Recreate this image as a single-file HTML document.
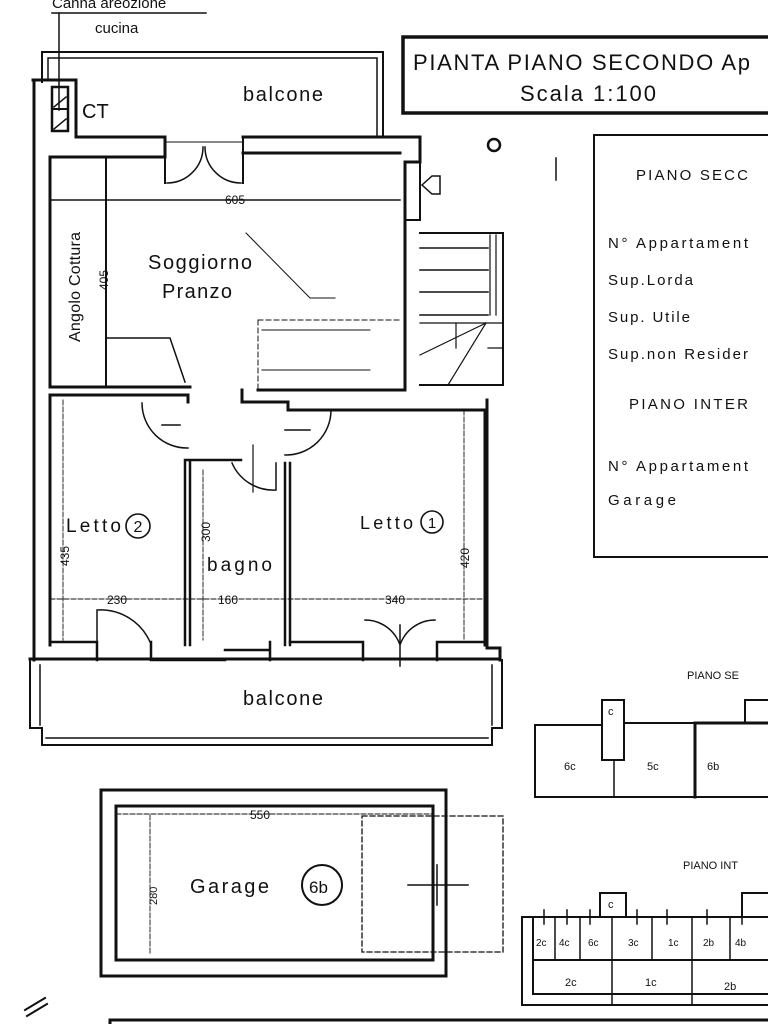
<!DOCTYPE html>
<html><head><meta charset="utf-8"><style>
html,body{margin:0;padding:0;background:#fff;}
svg{display:block;}
text{font-family:"Liberation Sans",sans-serif;fill:#111;}
</style></head><body>
<svg width="768" height="1024" viewBox="0 0 768 1024" xmlns="http://www.w3.org/2000/svg">
<rect width="768" height="1024" fill="#fff"/>
<g stroke="#111" fill="none" stroke-linecap="square">
<line x1="52" y1="13" x2="206" y2="13" stroke-width="1.5"/>
<line x1="59" y1="13" x2="59" y2="110" stroke-width="1.5"/>
<path d="M42 82 V52 H383 V135" stroke-width="2"/>
<path d="M48 80 V58 H377 V135" stroke-width="1.5"/>
<path d="M33 80 H76 V137 H165" stroke-width="3"/>
<rect x="52" y="87" width="16" height="44" stroke-width="2.5"/>
<line x1="52" y1="109" x2="68" y2="109" stroke-width="2"/>
<line x1="54" y1="107" x2="66" y2="97" stroke-width="1.5"/>
<line x1="54" y1="129" x2="66" y2="119" stroke-width="1.5"/>
<line x1="34" y1="80" x2="34" y2="660" stroke-width="3"/>
<line x1="50" y1="157" x2="50" y2="385" stroke-width="3"/>
<path d="M50 157 H165 V137" stroke-width="3"/>
<path d="M165 137 V183 M243 137 V183" stroke-width="2"/>
<line x1="165" y1="142" x2="243" y2="142" stroke-width="1"/>
<path d="M243 137 H420 V162 H405 V390 H258" stroke-width="3"/>
<path d="M243 153 H400" stroke-width="3"/>
<path d="M420 162 V220 H405" stroke-width="2"/>
<path d="M167 183 A36 36 0 0 0 203 147" stroke-width="1.5"/>
<path d="M241 183 A36 36 0 0 1 205 147" stroke-width="1.5"/>
<line x1="50" y1="200" x2="400" y2="200" stroke-width="1.5"/>
<line x1="106" y1="158" x2="106" y2="385" stroke-width="2"/>
<line x1="50" y1="387" x2="190" y2="387" stroke-width="3"/>
<path d="M106 338 H170 L185 382" stroke-width="1.5"/>
<path d="M258 320 H400 M258 320 V390" stroke-width="1" stroke-dasharray="5,3"/>
<path d="M262 330 H370 M262 370 H370" stroke-width="1"/>
<path d="M246 233 L310 298 H335" stroke-width="1"/>
<path d="M420 233 H503 V385 H420" stroke-width="2"/>
<path d="M420 248 H488 M420 270 H488 M420 292 H488 M420 315 H488" stroke-width="1.5"/>
<path d="M490 235 V315 M496 235 V315 M488 348 H503 M456 323 V348" stroke-width="1.2"/>
<path d="M420 355 L486 323 M448 385 L486 323" stroke-width="1.2"/>
<line x1="420" y1="323" x2="503" y2="323" stroke-width="1.2"/>
<path d="M50 395 H188 V402 M50 395 V645" stroke-width="3"/>
<path d="M242 390 V402 H288 V410 M288 410 H485 V645" stroke-width="3"/>
<path d="M487 400 V648 H500 V660" stroke-width="3"/>
<path d="M185 460 V645 M190 460 V645 M185 460 H241" stroke-width="2.5"/>
<path d="M285 463 V645 M290 463 V645" stroke-width="2.5"/>
<path d="M142 403 A45 45 0 0 0 188 448 M331 410 A45 45 0 0 1 285 455" stroke-width="1.5"/>
<path d="M276 463 V490 A45 45 0 0 1 232 463" stroke-width="1.5"/>
<path d="M162 425 H180 M285 430 H310" stroke-width="1.5"/>
<line x1="253" y1="445" x2="253" y2="492" stroke-width="1.2"/>
<line x1="30" y1="659" x2="500" y2="659" stroke-width="3"/>
<path d="M50 642 H97 V660 M151 642 V660 H225 M225 650 H270 M270 642 V660 M290 642 H363 V660 M437 660 V642 H485" stroke-width="2.5"/>
<path d="M97 660 V610 A54 54 0 0 1 150 642" stroke-width="1.5"/>
<path d="M365 620 A37 37 0 0 1 400 645 A37 37 0 0 1 435 620 M400 625 V666" stroke-width="1.5"/>
<g stroke-width="0.9" stroke-dasharray="5,2">
<line x1="63" y1="400" x2="63" y2="640"/>
<line x1="203" y1="470" x2="203" y2="640"/>
<line x1="464" y1="410" x2="464" y2="640"/>
<line x1="50" y1="599" x2="485" y2="599"/>
</g>
<path d="M30 660 V728 H42 V745 H492 V728 H502 V660" stroke-width="2"/>
<path d="M40 665 V725 M492 665 V725 M46 738 H488" stroke-width="1.5"/>
<rect x="101" y="790" width="345" height="186" stroke-width="3"/>
<rect x="116" y="806" width="317" height="154" stroke-width="3"/>
<rect x="362" y="816" width="141" height="136" stroke-width="1.3" stroke-dasharray="5,3"/>
<path d="M408 885 H468 M437 865 V905" stroke-width="1.5"/>
<line x1="116" y1="814" x2="433" y2="814" stroke-width="0.9" stroke-dasharray="5,2"/>
<line x1="150" y1="815" x2="150" y2="955" stroke-width="0.9" stroke-dasharray="5,2"/>
<circle cx="322" cy="885" r="20" stroke-width="2"/>
<rect x="403" y="37" width="380" height="76" stroke-width="3.5"/>
<rect x="594" y="135" width="190" height="422" stroke-width="2"/>
<circle cx="494" cy="145" r="6" stroke-width="2.5"/>
<path d="M556 158 V180 M422 185 L432 176 H440 V194 H432 Z" stroke-width="1.5"/>
<path d="M535 725 H602 M624 723 H745 M535 725 V797 H768" stroke-width="2"/>
<rect x="602" y="700" width="22" height="60" stroke-width="2"/>
<line x1="614" y1="760" x2="614" y2="797" stroke-width="1.5"/>
<line x1="695" y1="723" x2="695" y2="797" stroke-width="3"/>
<line x1="695" y1="723" x2="768" y2="723" stroke-width="3"/>
<path d="M745 723 V700 H768" stroke-width="2"/>
<path d="M522 917 H768 M522 917 V1005 H768 M533 917 V994 H768 M533 960 H768" stroke-width="2"/>
<rect x="600" y="893" width="26" height="24" stroke-width="2"/>
<path d="M555 917 V960 M580 917 V960 M612 917 V1005 M652 917 V960 M692 917 V1005 M730 917 V960" stroke-width="1.5"/>
<path d="M544 910 V924 M567 910 V924 M590 910 V924 M637 910 V924 M667 910 V924 M707 910 V924 M742 910 V924" stroke-width="1.5"/>
<path d="M742 917 V893 H768" stroke-width="2"/>
<path d="M110 1024 V1020 H768" stroke-width="3"/>
<path d="M25 1010 L45 998 M27 1016 L47 1004" stroke-width="2"/>
</g>
<text x="52" y="8" font-size="15">Canna areozione</text>
<text x="95" y="33" font-size="15">cucina</text>
<text x="243" y="101" font-size="20" textLength="80">balcone</text>
<text x="82" y="118" font-size="20">CT</text>
<text x="148" y="269" font-size="20" textLength="104">Soggiorno</text>
<text x="162" y="298" font-size="20" textLength="70">Pranzo</text>
<text transform="translate(80,342) rotate(-90)" font-size="16" textLength="110">Angolo Cottura</text>
<text transform="translate(108,290) rotate(-90)" font-size="12">405</text>
<text x="225" y="204" font-size="12">605</text>
<text x="66" y="532" font-size="19" textLength="55">Letto</text>
<text x="138" y="532" font-size="16" text-anchor="middle">2</text>
<circle cx="138" cy="526" r="12" fill="none" stroke="#111" stroke-width="1.6"/>
<text x="360" y="529" font-size="18" fill="#333" textLength="53">Letto</text>
<text x="432" y="528" font-size="15" text-anchor="middle">1</text>
<circle cx="432" cy="522" r="11" fill="none" stroke="#111" stroke-width="1.6"/>
<text x="207" y="571" font-size="19" textLength="65">bagno</text>
<text transform="translate(69,566) rotate(-90)" font-size="12">435</text>
<text transform="translate(210,542) rotate(-90)" font-size="12">300</text>
<text transform="translate(469,568) rotate(-90)" font-size="12">420</text>
<text x="107" y="604" font-size="12">230</text>
<text x="218" y="604" font-size="12">160</text>
<text x="385" y="604" font-size="12">340</text>
<text x="243" y="705" font-size="20" textLength="80">balcone</text>
<text x="190" y="893" font-size="20" textLength="79">Garage</text>
<text x="309" y="893" font-size="17">6b</text>
<text x="250" y="819" font-size="12">550</text>
<text transform="translate(157,905) rotate(-90)" font-size="11">280</text>
<text x="413" y="70" font-size="22" textLength="337">PIANTA PIANO SECONDO Ap</text>
<text x="520" y="101" font-size="22" textLength="136">Scala 1:100</text>
<text x="636" y="180" font-size="15" textLength="112">PIANO SECC</text>
<text x="608" y="248" font-size="15" textLength="140">N° Appartament</text>
<text x="608" y="285" font-size="15" textLength="85">Sup.Lorda</text>
<text x="608" y="322" font-size="15" textLength="82">Sup. Utile</text>
<text x="608" y="359" font-size="15" textLength="140">Sup.non Resider</text>
<text x="629" y="409" font-size="15" textLength="119">PIANO INTER</text>
<text x="608" y="471" font-size="15" textLength="140">N° Appartament</text>
<text x="608" y="505" font-size="15" textLength="68">Garage</text>
<text x="687" y="679" font-size="11">PIANO SE</text>
<text x="683" y="869" font-size="11">PIANO INT</text>
<text x="608" y="715" font-size="11">c</text>
<text x="564" y="770" font-size="11">6c</text>
<text x="647" y="770" font-size="11">5c</text>
<text x="707" y="770" font-size="11">6b</text>
<text x="608" y="908" font-size="11">c</text>
<text x="536" y="946" font-size="10">2c</text>
<text x="559" y="946" font-size="10">4c</text>
<text x="588" y="946" font-size="10">6c</text>
<text x="628" y="946" font-size="10">3c</text>
<text x="668" y="946" font-size="10">1c</text>
<text x="703" y="946" font-size="10">2b</text>
<text x="735" y="946" font-size="10">4b</text>
<text x="565" y="986" font-size="11">2c</text>
<text x="645" y="986" font-size="11">1c</text>
<text x="724" y="990" font-size="11">2b</text>
</svg>
</body></html>
